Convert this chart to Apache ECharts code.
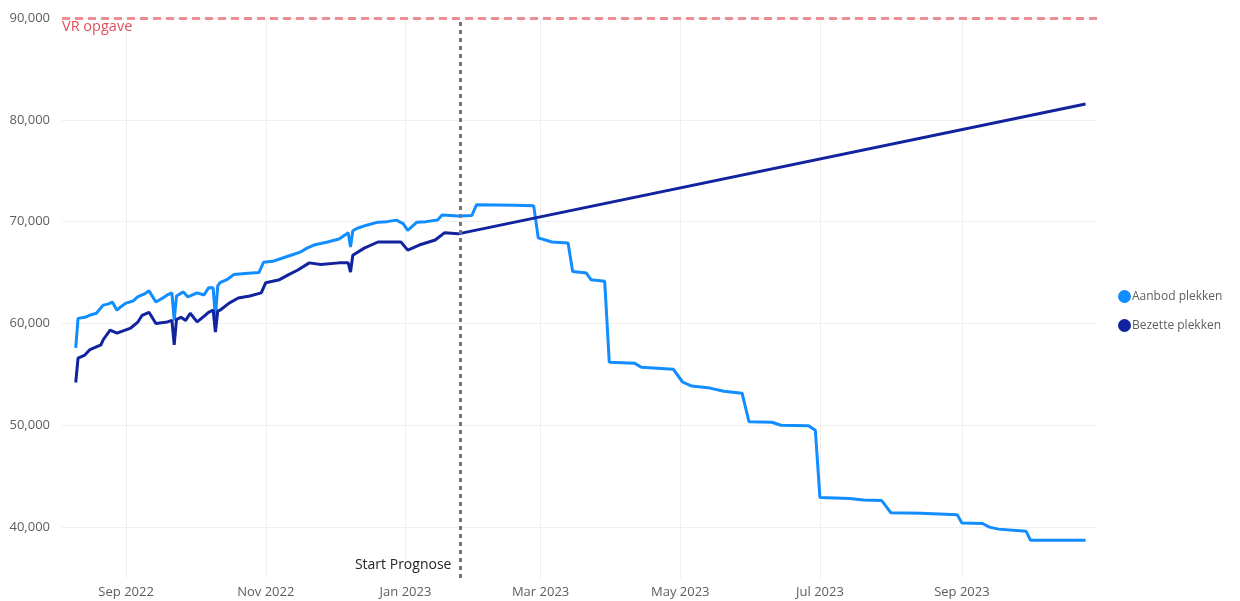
<!DOCTYPE html>
<html><head><meta charset="utf-8">
<script src="https://cdn.jsdelivr.net/npm/echarts@6/dist/echarts.min.js"></script>
<style>html,body{margin:0;padding:0;background:#fff}#c{width:1240px;height:601px}</style>
</head><body><div id="c"></div><script>
const seriesNames = ['Aanbod plekken', 'Bezette plekken'];
const aanbodDates = ['2022-08-10','2022-08-11','2022-08-14','2022-08-16','2022-08-19','2022-08-22','2022-08-24','2022-08-26','2022-08-28','2022-08-30','2022-09-01','2022-09-04','2022-09-06','2022-09-09','2022-09-11','2022-09-14','2022-09-17','2022-09-19','2022-09-21','2022-09-22','2022-09-23','2022-09-26','2022-09-28','2022-10-02','2022-10-05','2022-10-07','2022-10-09','2022-10-10','2022-10-11','2022-10-12','2022-10-15','2022-10-18','2022-10-23','2022-10-29','2022-10-31','2022-11-04','2022-11-08','2022-11-12','2022-11-16','2022-11-19','2022-11-22','2022-11-28','2022-12-03','2022-12-07','2022-12-08','2022-12-09','2022-12-11','2022-12-15','2022-12-20','2022-12-24','2022-12-28','2022-12-31','2023-01-02','2023-01-06','2023-01-10','2023-01-15','2023-01-17','2023-01-24','2023-01-30','2023-02-01','2023-02-18','2023-02-26','2023-02-28','2023-03-06','2023-03-13','2023-03-15','2023-03-21','2023-03-23','2023-03-29','2023-03-31','2023-04-11','2023-04-14','2023-04-28','2023-05-02','2023-05-06','2023-05-14','2023-05-20','2023-05-28','2023-05-31','2023-06-10','2023-06-14','2023-06-26','2023-06-29','2023-07-01','2023-07-14','2023-07-20','2023-07-28','2023-08-01','2023-08-14','2023-08-30','2023-09-01','2023-09-10','2023-09-13','2023-09-17','2023-09-29','2023-10-01','2023-10-25'];
const aanbodValues = [57600,60500,60600,60800,61000,61800,61900,62100,61300,61700,62000,62200,62600,62900,63200,62100,62500,62800,63000,60300,62700,63100,62600,63000,62800,63500,63500,60600,63700,64000,64300,64800,64900,65000,66000,66100,66400,66700,67000,67400,67700,68000,68300,68900,67500,69100,69350,69650,69950,70000,70150,69800,69150,69950,70000,70150,70650,70550,70600,71650,71600,71550,68400,68000,67900,65100,64950,64300,64150,56200,56100,55700,55500,54250,53850,53650,53350,53150,50350,50300,50000,49950,49500,42900,42800,42650,42600,41400,41350,41200,40400,40350,40000,39800,39600,38700,38700];
const bezetDates = ['2022-08-10','2022-08-11','2022-08-14','2022-08-16','2022-08-19','2022-08-21','2022-08-22','2022-08-25','2022-08-28','2022-08-31','2022-09-03','2022-09-06','2022-09-08','2022-09-11','2022-09-14','2022-09-19','2022-09-21','2022-09-22','2022-09-23','2022-09-25','2022-09-27','2022-09-29','2022-10-02','2022-10-05','2022-10-07','2022-10-09','2022-10-10','2022-10-11','2022-10-12','2022-10-16','2022-10-20','2022-10-25','2022-10-30','2022-11-01','2022-11-07','2022-11-11','2022-11-15','2022-11-20','2022-11-25','2022-12-03','2022-12-07','2022-12-08','2022-12-09','2022-12-14','2022-12-20','2022-12-30','2023-01-02','2023-01-07','2023-01-14','2023-01-18','2023-01-24','2023-10-25'];
const bezetValues = [54200,56600,56900,57400,57700,57900,58400,59350,59050,59300,59550,60100,60800,61100,60000,60150,60300,57900,60400,60600,60300,61000,60150,60700,61100,61300,59150,61200,61300,62000,62500,62700,63000,64000,64300,64800,65250,65950,65800,65950,65950,65050,66700,67400,68000,68000,67200,67700,68200,68900,68800,81550];
const yTicks = [40000,50000,60000,70000,80000,90000];
const xTickDates = ['2022-09-01','2022-11-01','2023-01-01','2023-03-01','2023-05-01','2023-07-01','2023-09-01'];
const monthNames = ['Jan','Feb','Mar','Apr','May','Jun','Jul','Aug','Sep','Oct','Nov','Dec'];
const vrOpgave = 90000;
const vrLabel = 'VR opgave';
const startPrognoseDate = '2023-01-24';
const startLabel = 'Start Prognose';
const xRange = ['2022-08-04','2023-10-30'];
const yRange = [35000, 90000];

function ts(s){ const p = s.split('-').map(Number); return new Date(p[0], p[1]-1, p[2]).getTime(); }
const font = '"Segoe UI", "Open Sans", sans-serif';
const chart = echarts.init(document.getElementById('c'));
chart.setOption({
  animation: false,
  grid: { left: 62, right: 143, top: 18, bottom: 23, containLabel: false },
  legend: {
    orient: 'vertical', left: 1113, top: 285, icon: 'circle', itemWidth: 13, itemHeight: 13, itemGap: 16,
    textStyle: { color: '#605E5C', fontSize: 12, fontFamily: font, padding: [0,0,0,-4] },
    data: seriesNames
  },
  xAxis: {
    type: 'value', min: ts(xRange[0]), max: ts(xRange[1]),
    axisLine: { show: false }, axisTick: { show: false, customValues: xTickDates.map(ts) },
    splitLine: { show: true, lineStyle: { color: '#EFEFEF', width: 1 } },
    axisLabel: {
      customValues: xTickDates.map(ts), color: '#605E5C', fontSize: 13, fontFamily: font, margin: 8,
      formatter: v => { const d = new Date(v); return monthNames[d.getMonth()] + ' ' + d.getFullYear(); }
    }
  },
  yAxis: {
    type: 'value', min: yRange[0], max: yRange[1],
    axisLine: { show: false }, axisTick: { show: false, customValues: yTicks },
    splitLine: { show: true, lineStyle: { color: '#EFEFEF', width: 1 } },
    axisLabel: {
      customValues: yTicks, color: '#605E5C', fontSize: 13, fontFamily: font, margin: 12,
      formatter: v => v.toLocaleString('en-US')
    }
  },
  series: [
    {
      name: seriesNames[0], type: 'line', showSymbol: false, symbol: 'none',
      color: '#118DFF', lineStyle: { width: 3, color: '#118DFF' },
      data: aanbodDates.map((d,i) => [ts(d), aanbodValues[i]]),
      markLine: {
        silent: true, symbol: 'none',
        lineStyle: { color: '#EC8E94', type: [8,5], width: 3 },
        label: { show: true, position: 'insideStartBottom', formatter: vrLabel, color: '#E0505C', fontSize: 14.5, fontFamily: font, distance: [0, 1] },
        data: [{ yAxis: vrOpgave }]
      }
    },
    {
      name: seriesNames[1], type: 'line', showSymbol: false, symbol: 'none', z: 3,
      color: '#12239E', lineStyle: { width: 3, color: '#12239E' },
      data: bezetDates.map((d,i) => [ts(d), bezetValues[i]]),
      markLine: {
        silent: true, symbol: 'none',
        lineStyle: { color: '#767676', type: [4,4], width: 3 },
        label: { show: false },
        data: [{ xAxis: ts(startPrognoseDate) + 86400000 }]
      },
      markPoint: {
        silent: true, symbol: 'circle', symbolSize: 0,
        label: { show: true, position: 'left', distance: 9, formatter: startLabel, color: '#252423', fontSize: 14, fontFamily: font },
        data: [{ coord: [ts(startPrognoseDate) + 86400000, 36250] }]
      }
    }
  ]
});
</script></body></html>
